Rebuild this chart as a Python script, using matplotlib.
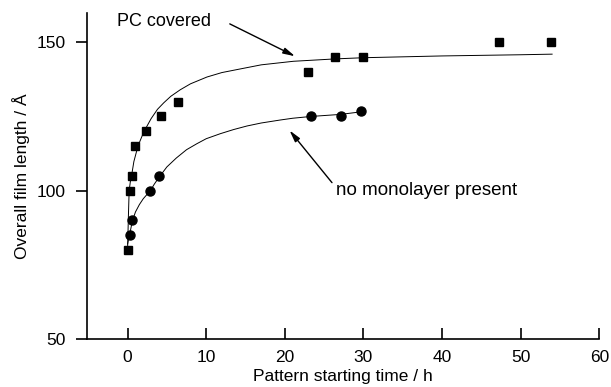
import matplotlib
matplotlib.use("Agg")
import matplotlib.pyplot as plt

# measured points, PC covered (squares)
pc_t = [0.0, 0.25, 0.5, 1.0, 2.3, 4.2, 6.4, 23.0, 26.4, 30.0, 47.3, 53.9]
pc_len = [80, 100, 105, 115, 120, 125, 130, 140, 145, 145, 150, 150]

# measured points, no monolayer (circles)
bare_t = [0.25, 0.6, 2.9, 4.0, 23.3, 27.1, 29.7]
bare_len = [85, 90, 100, 105, 125, 125, 127]

# fitted curves
pc_fit_t = [0.0, 0.1, 0.2, 0.35, 0.56, 0.8, 1.19, 1.5, 2.03, 2.5, 3.0, 3.8,
            4.6, 5.5, 6.7, 8.0, 10.1, 12.0, 14.3, 17.0, 21.1, 26.4, 30.0,
            40.0, 50.0, 54.0]
pc_fit_len = [80.0, 91.0, 100.0, 103.0, 105.9, 109.8, 113.7, 116.2, 119.6,
              121.9, 124.3, 127.4, 129.6, 131.8, 134.0, 136.0, 138.3, 139.8,
              141.0, 142.4, 143.6, 144.4, 144.8, 145.4, 145.8, 146.0]

bare_fit_t = [0.0, 0.1, 0.25, 0.6, 1.0, 1.5, 2.0, 2.9, 3.4, 4.0, 5.0, 6.2,
              7.5, 8.8, 10.0, 11.8, 13.5, 15.2, 17.0, 19.4, 21.0, 23.3, 27.1,
              29.8]
bare_fit_len = [82.0, 83.3, 85.0, 89.7, 92.8, 95.3, 97.3, 100.0, 102.2, 104.5,
                108.0, 111.0, 113.8, 115.8, 117.5, 119.2, 120.6, 121.8, 122.8,
                123.8, 124.4, 125.0, 125.7, 126.6]

xticks = [0, 10, 20, 30, 40, 50, 60]
yticks = [50, 100, 150]

plt.rcParams["font.family"] = ["Liberation Sans", "DejaVu Sans"]
plt.rcParams["font.size"] = 12.5

fig = plt.figure(figsize=(6.11, 3.87), dpi=100)
ax = fig.add_axes([0.1419, 0.124, 0.8389, 0.8434])

ax.plot(pc_fit_t, pc_fit_len, color="black", lw=0.7)
ax.plot(bare_fit_t, bare_fit_len, color="black", lw=0.7)
ax.plot(pc_t, pc_len, "s", color="black", ms=6, zorder=3)
ax.plot(bare_t, bare_len, "o", color="black", ms=6.5, zorder=3)

arrow = dict(arrowstyle="-|>,head_length=0.7,head_width=0.18", color="black",
             lw=1.0, mutation_scale=10, shrinkA=0, shrinkB=0)
ax.annotate("", xy=(21.3, 145.3), xytext=(13.0, 156.2), arrowprops=arrow)
ax.annotate("", xy=(20.6, 120.3), xytext=(26.0, 102.7), arrowprops=arrow)
ax.text(-1.35, 156.9, "PC covered", va="center", ha="left", fontsize=13)
ax.text(26.5, 100.1, "no monolayer present", va="center", ha="left",
        fontsize=13.5)

ax.set_xlim(-5.2, 60)
ax.set_ylim(50, 160)
ax.set_xticks(xticks)
ax.set_yticks(yticks)
ax.spines["top"].set_visible(False)
ax.spines["right"].set_visible(False)
for s in ("left", "bottom"):
    ax.spines[s].set_linewidth(1.2)
ax.tick_params(axis="x", direction="in", length=8, width=1.2, pad=8)
ax.tick_params(axis="y", direction="out", length=8, width=1.2, pad=7)

ax.set_xlabel("Pattern starting time / h", labelpad=3)
ax.set_ylabel("Overall film length / Å", labelpad=5)

fig.savefig("out.png", dpi=100)
